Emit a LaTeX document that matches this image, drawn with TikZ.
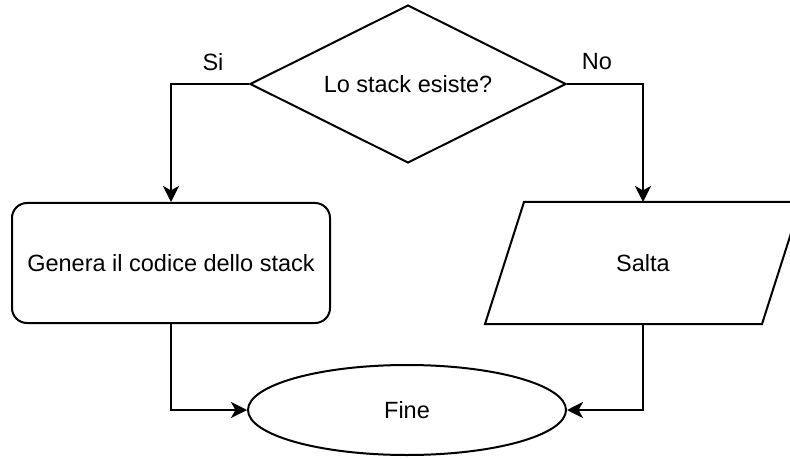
\documentclass[tikz,border=0pt]{standalone}
\usepackage{fontspec}
\setmainfont{Liberation Sans}
\usetikzlibrary{shapes.geometric,arrows.meta}
\begin{document}
\begin{tikzpicture}[x=0.5pt,y=-0.5pt,
  line width=1pt,
  every node/.style={font=\fontsize{11.75pt}{14pt}\selectfont, inner sep=0pt},
  shapebox/.style={draw, fill=white},
  flow/.style={-{Stealth[length=8pt,width=8pt,inset=2.2pt]}}]
\useasboundingbox (0,0) rectangle (790,459);
\clip (0,0) rectangle (790,459);

% decision
\node[shapebox, diamond, aspect=2, minimum width=158pt, minimum height=79pt] (dia) at (408,84) {Lo stack esiste?};

% branch boxes
\node[shapebox, rectangle, rounded corners=7.5pt, minimum width=159pt, minimum height=60pt] (gen) at (171,263) {Genera il codice dello stack};
% input/output box: a plain frame node with a slanted outline drawn from its corners
\node[rectangle, minimum width=157pt, minimum height=60pt] (salta) at (643,263) {Salta};
\draw (salta.south west) -- ++(277,0) -- (salta.north east) -- ++(-277,0) -- cycle;

% terminal
\node[shapebox, ellipse, minimum width=159pt, minimum height=45pt] (fine) at (407,410) {Fine};

% branch labels
\node (si) at (213,62) {Si};
\node (no) at (597,62) {No};

% connectors
\draw[flow] (dia.west) -| (gen.north);
\draw[flow] (dia.east) -| (salta.north);
\draw[flow] (gen.south) |- (fine.west);
\draw[flow] (salta.south) |- (fine.east);
\end{tikzpicture}
\end{document}
